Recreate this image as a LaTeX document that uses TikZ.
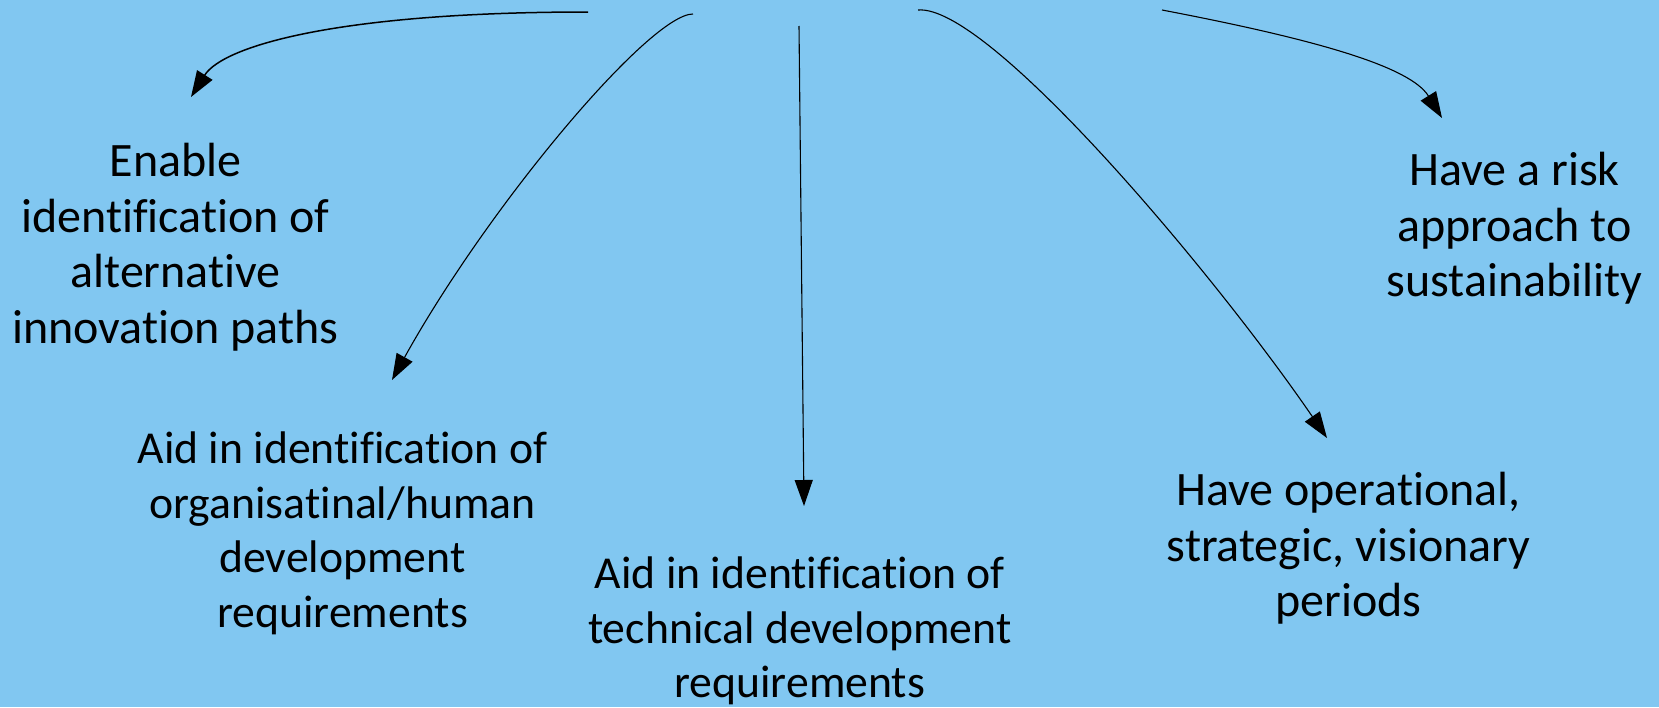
\documentclass[tikz,border=0pt]{standalone}
\usepackage{fontspec}
\setmainfont{Carlito}[Ligatures={NoCommon}]
\usetikzlibrary{arrows.meta}
\definecolor{skyback}{RGB}{129,199,241}
\tikzset{
  % anchor=base sits on the last line's baseline
  label/.style={align=center, inner sep=0pt, anchor=base,
    font=\fontsize{48pt}{55.5pt}\selectfont, text=black},
  smalllabel/.style={label, font=\fontsize{45.7pt}{54.5pt}\selectfont},
  link/.style={draw=black, line width=1.1pt,
    -{Triangle[length=26pt,width=18pt]}},
}
\begin{document}
\begin{tikzpicture}[x=1pt,y=-1pt]
  % canvas
  \fill[skyback] (0,0) rectangle (1659,707);
  \useasboundingbox (0,0) rectangle (1659,707);

  % text blocks
  \node[label] (paths) at (175.5,343) {Enable\\identification of\\alternative\\innovation paths};
  \node[smalllabel] (human) at (342.5,627) {Aid in identification of\\organisatinal/human\\development\\requirements};
  \node[smalllabel] (tech) at (799.7,697.5) {Aid in identification of\\technical development\\requirements};
  \node[label] (periods) at (1348.5,616.7) {Have operational,\\strategic, visionary\\periods};
  \node[label] (risk) at (1514.5,296.7) {Have a risk\\approach to\\sustainability};

  % connector ends
  \coordinate (s1) at (588,12);   \coordinate (e1) at (191,97);
  \coordinate (s2) at (693,14);   \coordinate (e2) at (392,380);
  \coordinate (s3) at (799,26);   \coordinate (e3) at (804,506);
  \coordinate (s4) at (918,10);   \coordinate (e4) at (1327,438);
  \coordinate (s5) at (1162,10);  \coordinate (e5) at (1442,118);

  % connectors
  \draw[link, line width=1.5pt] (s1) .. controls (338,12) and (223,46) .. (e1);
  \draw[link] (s2) .. controls (650,14) and (489,205) .. (e2);
  \draw[link] (s3) -- (e3);
  \draw[link] (s4) .. controls (988,4) and (1214,273) .. (e4);
  \draw[link] (s5) .. controls (1319,40) and (1410.5,67) .. (e5);
\end{tikzpicture}
\end{document}
